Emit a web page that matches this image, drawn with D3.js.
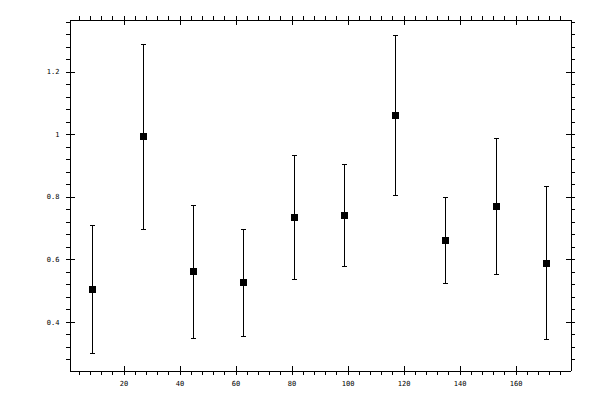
<!DOCTYPE html>
<html>
<head>
<meta charset="utf-8">
<script src="https://cdn.jsdelivr.net/npm/d3@7"></script>
<style>
    body { margin: 0; background: #fff; }
    svg { display: block; }
    .tick text { font-family: "DejaVu Sans Mono", monospace; font-size: 7px; fill: #000; }
    .domain, .tick line { stroke: #000; shape-rendering: crispEdges; }
</style>
</head>
<body>
<div id="chart"></div>
<script>
// data
let xValues = [9, 27, 45, 63, 81, 99, 117, 135, 153, 171];
let yValues = [0.502, 0.993, 0.560, 0.525, 0.733, 0.739, 1.059, 0.659, 0.768, 0.586];
let yUpper = [0.708, 1.286, 0.773, 0.696, 0.931, 0.902, 1.315, 0.797, 0.987, 0.831];
let yLower = [0.298, 0.694, 0.347, 0.353, 0.534, 0.576, 0.804, 0.522, 0.550, 0.342];

let xTicks = [20, 40, 60, 80, 100, 120, 140, 160];
let yTicks = [0.4, 0.6, 0.8, 1, 1.2];

let points = xValues.map(function (x, i) {
    return { x: x, y: yValues[i], hi: yUpper[i], lo: yLower[i] };
});

let margin = { top: 19.5, right: 29.5, bottom: 29.5, left: 69.5 },
    width = 600 - margin.left - margin.right,
    height = 400 - margin.top - margin.bottom;

let svg = d3.select("#chart")
    .append("svg")
    .attr("width", 600)
    .attr("height", 400)
    .append("g")
    .attr("transform", "translate(" + margin.left + "," + margin.top + ")");

let x = d3.scaleLinear().domain([0.7, 179.6]).range([0, width]);
let y = d3.scaleLinear().domain([0.2442, 1.3664]).range([height, 0]);

// minor ticks for x, every 4
let xMinor = d3.range(4, 180, 4).filter(function (v) { return v % 20 != 0; });
// minor ticks for y, every 0.04
let yMinor = d3.range(0, 36).map(function (i) { return Math.round((0.24 + i * 0.04) * 100) / 100; })
    .filter(function (v) { return v > 0.2442 && v < 1.3664 && Math.round(v * 100) % 20 != 0; });

function noLabels(axis) { return axis.tickFormat(""); }

// bottom axis: labels + outer major ticks
svg.append("g")
    .attr("transform", "translate(0," + height + ")")
    .call(d3.axisBottom(x).tickValues(xTicks).tickSize(4).tickSizeOuter(0).tickPadding(7).tickFormat(d3.format("d")));
svg.append("g")
    .attr("transform", "translate(0," + height + ")")
    .call(noLabels(d3.axisBottom(x).tickValues(xTicks).tickSize(-5).tickSizeOuter(0)));
svg.append("g")
    .attr("transform", "translate(0," + height + ")")
    .call(noLabels(d3.axisBottom(x).tickValues(xMinor).tickSize(4).tickSizeOuter(0)));

// top axis
svg.append("g")
    .call(noLabels(d3.axisTop(x).tickValues(xTicks).tickSize(4).tickSizeOuter(0)));
svg.append("g")
    .call(noLabels(d3.axisTop(x).tickValues(xTicks).tickSize(-5).tickSizeOuter(0)));
svg.append("g")
    .call(noLabels(d3.axisTop(x).tickValues(xMinor).tickSize(4).tickSizeOuter(0)));

// left axis
svg.append("g")
    .call(d3.axisLeft(y).tickValues(yTicks).tickSize(4).tickSizeOuter(0).tickPadding(6).tickFormat(function (d) { return String(d); }));
svg.append("g")
    .call(noLabels(d3.axisLeft(y).tickValues(yTicks).tickSize(-5).tickSizeOuter(0)));
svg.append("g")
    .call(noLabels(d3.axisLeft(y).tickValues(yMinor).tickSize(4).tickSizeOuter(0)));

// right axis
svg.append("g")
    .attr("transform", "translate(" + width + ",0)")
    .call(noLabels(d3.axisRight(y).tickValues(yTicks).tickSize(4).tickSizeOuter(0)));
svg.append("g")
    .attr("transform", "translate(" + width + ",0)")
    .call(noLabels(d3.axisRight(y).tickValues(yTicks).tickSize(-5).tickSizeOuter(0)));
svg.append("g")
    .attr("transform", "translate(" + width + ",0)")
    .call(noLabels(d3.axisRight(y).tickValues(yMinor).tickSize(4).tickSizeOuter(0)));

// error bars
let bars = svg.selectAll(".errbar")
    .data(points)
    .enter()
    .append("g")
    .attr("class", "errbar")
    .attr("stroke", "#000")
    .attr("stroke-width", 1)
    .style("shape-rendering", "crispEdges");

bars.append("line")
    .attr("x1", function (d) { return x(d.x); })
    .attr("x2", function (d) { return x(d.x); })
    .attr("y1", function (d) { return y(d.hi); })
    .attr("y2", function (d) { return y(d.lo); });

bars.append("line")
    .attr("x1", function (d) { return x(d.x) - 2.5; })
    .attr("x2", function (d) { return x(d.x) + 2.5; })
    .attr("y1", function (d) { return y(d.hi); })
    .attr("y2", function (d) { return y(d.hi); });

bars.append("line")
    .attr("x1", function (d) { return x(d.x) - 2.5; })
    .attr("x2", function (d) { return x(d.x) + 2.5; })
    .attr("y1", function (d) { return y(d.lo); })
    .attr("y2", function (d) { return y(d.lo); });

// square markers
svg.selectAll(".marker")
    .data(points)
    .enter()
    .append("rect")
    .attr("class", "marker")
    .attr("x", function (d) { return x(d.x) - 3.5; })
    .attr("y", function (d) { return y(d.y) - 3.5; })
    .attr("width", 7)
    .attr("height", 7)
    .attr("fill", "#000")
    .style("shape-rendering", "crispEdges");
</script>
</body>
</html>
